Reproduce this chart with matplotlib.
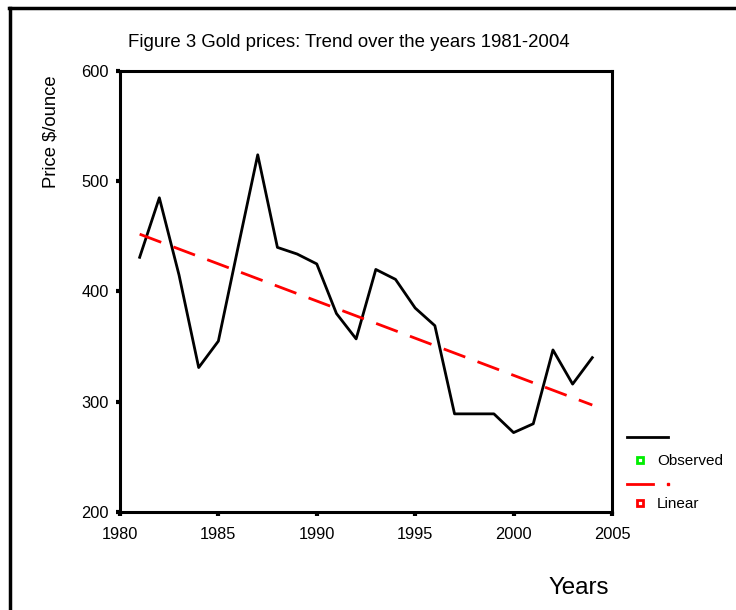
import numpy as np
import matplotlib
matplotlib.use("Agg")
import matplotlib.pyplot as plt
from matplotlib.lines import Line2D

plt.rcParams['font.family'] = ['Liberation Sans', 'DejaVu Sans']

# observed gold prices
years = [1981, 1982, 1983, 1984, 1985, 1986, 1987, 1988, 1989, 1990, 1991, 1992,
         1993, 1994, 1995, 1996, 1997, 1998, 1999, 2000, 2001, 2002, 2003, 2004]
price = [431, 485, 415, 331, 355, 440, 524, 440, 434, 425, 380, 357,
         420, 411, 385, 369, 289, 289, 289, 272, 280, 347, 316, 340]

# linear trend endpoints
trend_years = [1981, 2004]
trend_price = [452, 297]

xticks = [1980, 1985, 1990, 1995, 2000, 2005]
yticks = [200, 300, 400, 500, 600]

fig = plt.figure(figsize=(7.36, 6.10), dpi=100)
ax = fig.add_axes([0.163, 0.1607, 0.6685, 0.7229])

ax.plot(years, price, color='black', lw=2)
ax.plot(trend_years, trend_price, color='red', lw=2, dashes=(8.3, 4.7))

ax.set_xlim(1980, 2005)
ax.set_ylim(200, 600)
ax.set_xticks(xticks)
ax.set_yticks(yticks)
ax.tick_params(direction='out', length=3, width=3, labelsize=11.8, pad=5)
ax.tick_params(axis='x', pad=8)
for s in ax.spines.values():
    s.set_linewidth(2.2)

fig.text(0.474, 0.931, 'Figure 3 Gold prices: Trend over the years 1981-2004',
         ha='center', va='center', fontsize=13.4)
fig.text(0.069, 0.877, 'Price $/ounce', rotation=90, ha='center', va='top', fontsize=13.3)
fig.text(0.786, 0.036, 'Years', ha='center', va='center', fontsize=17.4)

# frame lines around the figure
fig.add_artist(Line2D([0.012, 1.0], [0.987, 0.987], color='black', lw=2.5))
fig.add_artist(Line2D([0.0135, 0.0135], [0.0, 0.987], color='black', lw=2.5))

# legend built like the original
fig.add_artist(Line2D([627/736, 668/736], [1-437/610, 1-437/610], color='black', lw=2))
fig.add_artist(Line2D([640/736], [1-460/610], marker='s', ms=5, mfc='white',
                      mec='#00ee00', mew=2, ls='none'))
fig.text(657/736, 1-461/610, 'Observed', ha='left', va='center', fontsize=11)
fig.add_artist(Line2D([627/736, 653/736], [1-484/610, 1-484/610], color='red', lw=2))
fig.add_artist(Line2D([668/736], [1-484/610], marker='s', ms=2, color='red', ls='none'))
fig.add_artist(Line2D([640/736], [1-503/610], marker='s', ms=5, mfc='white',
                      mec='red', mew=2, ls='none'))
fig.text(657/736, 1-504/610, 'Linear', ha='left', va='center', fontsize=11)

fig.savefig('out.png', dpi=100)
